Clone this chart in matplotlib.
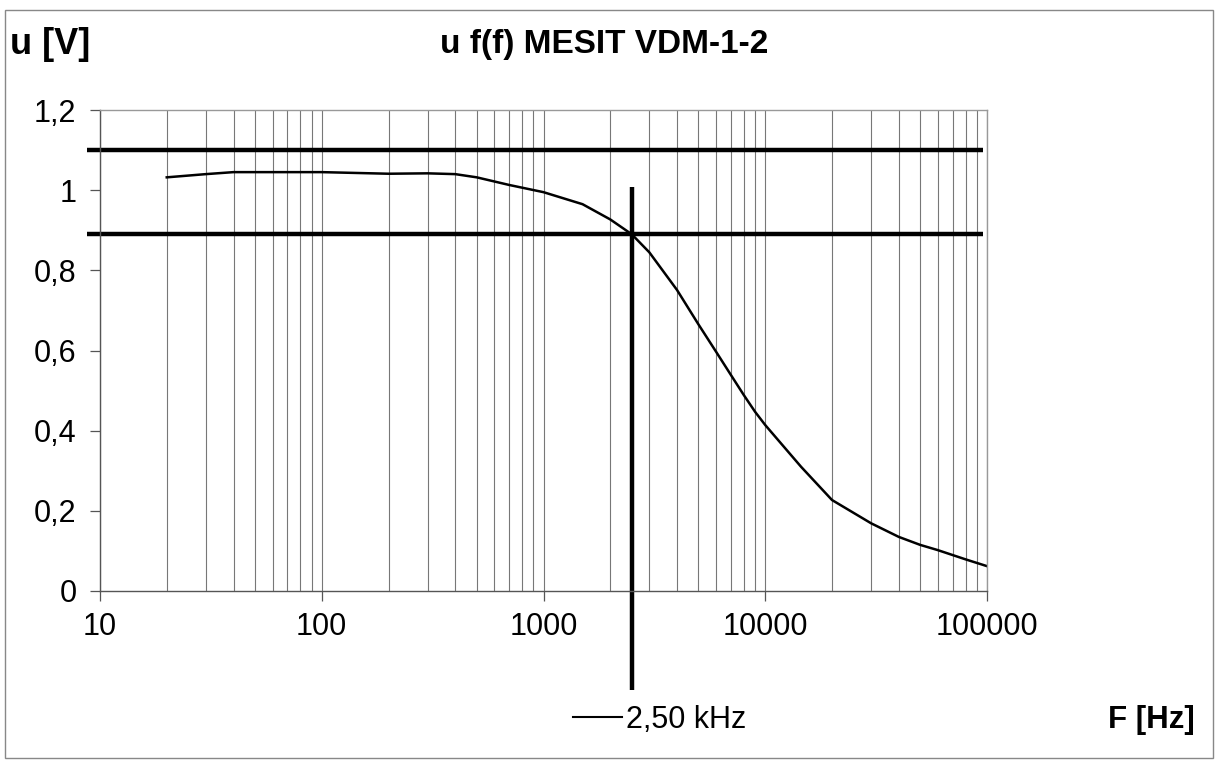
import matplotlib.pyplot as plt
from matplotlib.lines import Line2D
from matplotlib.ticker import LogLocator, FixedLocator, FuncFormatter

# Hz
freqs = [20, 30, 40, 50, 70, 100, 200, 300, 400, 500, 700, 1000, 1500,
         2000, 2500, 3000, 4000, 5000, 6000, 7000, 8000, 9000, 10000, 14500,
         20000, 30000, 40000, 50000, 60000, 80000, 100000]
# V
volts = [1.032, 1.040, 1.045, 1.045, 1.045, 1.045, 1.041, 1.042, 1.040, 1.032,
         1.013, 0.995, 0.965, 0.927, 0.890, 0.845, 0.751, 0.665, 0.597,
         0.539, 0.489, 0.447, 0.414, 0.310, 0.227, 0.169, 0.135, 0.115, 0.102,
         0.079, 0.062]

limit_hi = 1.10
limit_lo = 0.89
f_cut = 2500
cut_label = "2,50 kHz"

plt.rcParams['font.family'] = ['Liberation Sans', 'DejaVu Sans']

fig = plt.figure(figsize=(12.15, 7.64), dpi=100)
ax = fig.add_axes([100/1215, 1-591/764, 887/1215, 481/764])

ax.set_xscale('log')
ax.set_xlim(10, 100000)
ax.set_ylim(0, 1.2)
ax.xaxis.set_major_locator(LogLocator(base=10, numticks=10))
ax.xaxis.set_minor_locator(LogLocator(base=10, subs=range(2, 10), numticks=20))
ax.xaxis.set_major_formatter(FuncFormatter(lambda v, p: f"{v:.0f}"))
ax.xaxis.set_minor_formatter(FuncFormatter(lambda v, p: ""))
ax.yaxis.set_major_locator(FixedLocator([0, 0.2, 0.4, 0.6, 0.8, 1.0, 1.2]))
ax.yaxis.set_major_formatter(FuncFormatter(lambda v, p: f"{v:g}".replace('.', ',')))
ax.grid(True, which='both', axis='x', color='#777777', lw=0.8)
ax.set_axisbelow(True)

ax.tick_params(axis='y', which='major', direction='out', length=7, width=0.9,
               color='#555555', labelsize=22, pad=10)
ax.tick_params(axis='x', which='major', direction='out', length=7, width=0.9,
               color='#555555', labelsize=22, pad=8)
ax.tick_params(axis='x', which='minor', length=0)

for side in ['top', 'right']:
    ax.spines[side].set_color('#999999')
    ax.spines[side].set_linewidth(1.0)
for side in ['left', 'bottom']:
    ax.spines[side].set_color('#555555')
    ax.spines[side].set_linewidth(1.0)

ax.plot([8.7, 96000], [limit_hi, limit_hi], color='black', lw=3.2, clip_on=False, solid_capstyle='butt')
ax.plot([8.7, 96000], [limit_lo, limit_lo], color='black', lw=3.2, clip_on=False, solid_capstyle='butt')
ax.plot(freqs, volts, color='black', lw=1.8)
ax.plot([f_cut, f_cut], [-0.247, 1.008], color='black', lw=3.2, clip_on=False, solid_capstyle='butt')

fig.text(604/1215, 1-45/764, "u f(f) MESIT VDM-1-2", ha='center', va='center',
         fontsize=24, fontweight='bold')
fig.text(10/1215, 1-45/764, "u [V]", ha='left', va='center',
         fontsize=26, fontweight='bold')
fig.text(1195/1215, 1-720/764, "F [Hz]", ha='right', va='center',
         fontsize=22.5, fontweight='bold')

proxy = Line2D([], [], color='black', lw=1.5)
fig.legend([proxy], [cut_label], loc='center left', bbox_to_anchor=(573/1215, 1-720/764),
           frameon=False, fontsize=22, handlelength=1.6, handletextpad=0.15,
           borderpad=0, borderaxespad=0)

fig.patches.append(plt.Rectangle((5/1215, 6/764), 1208/1215, 748/764, transform=fig.transFigure,
                                 fill=False, edgecolor='#888888', lw=1.0))

fig.savefig('out.png', dpi=100)
